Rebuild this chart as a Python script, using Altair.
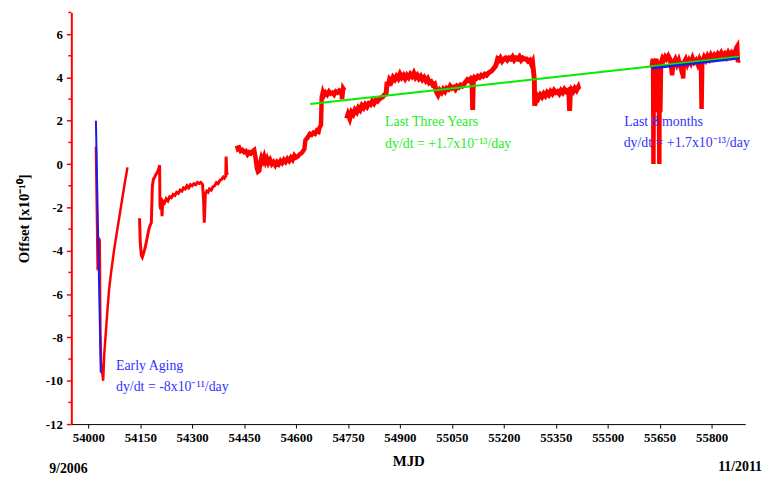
import altair as alt
import pandas as pd

# ---------------- data ----------------
# red measured offset, in separate recording segments (MJD, offset x1e-10)
seg_a_mjd = [54022, 54025, 54027, 54030, 54033, 54035, 54037, 54040, 54043, 54046, 54050, 54055, 54060,
             54065, 54070, 54075, 54080, 54085, 54090, 54095, 54100, 54105, 54110, 54113]
seg_a_val = [0.8, -2.5, -4.9, -3.4, -3.5, -7.8, -9.2, -9.6, -10.0, -8.8, -7.9, -6.8, -5.8,
             -5.1, -4.5, -3.9, -3.4, -2.9, -2.4, -1.9, -1.4, -0.9, -0.45, -0.15]

seg_b_mjd = [54148, 54150, 54153, 54156, 54160, 54165, 54170, 54175, 54179, 54182, 54185, 54188, 54192,
             54196, 54200, 54204, 54206, 54207, 54209, 54211, 54213, 54215, 54220, 54225, 54230, 54235,
             54240, 54245, 54250, 54255, 54260, 54265, 54270, 54275, 54280, 54285, 54290, 54295, 54300,
             54305, 54310, 54315, 54320, 54325, 54330, 54333, 54335, 54338, 54342, 54346, 54350, 54355,
             54360, 54365, 54370, 54375, 54380, 54385, 54390, 54393, 54397, 54398, 54400, 54403]
seg_b_val = [-2.5, -3.6, -4.2, -4.3, -4.1, -3.8, -3.4, -3.0, -2.8, -2.7, -1.0, -0.7, -0.6,
             -0.45, -0.35, -0.2, -0.05, -1.9, -2.1, -1.8, -2.4, -1.7, -1.8, -1.6, -1.7, -1.5,
             -1.55, -1.4, -1.45, -1.3, -1.35, -1.2, -1.25, -1.1, -1.15, -1.0, -1.1, -0.95, -1.0,
             -0.9, -0.95, -0.85, -0.9, -0.85, -0.95, -1.7, -2.7, -1.4, -1.25, -1.3, -1.15, -1.2,
             -1.05, -1.0, -0.85, -0.9, -0.75, -0.7, -0.6, -0.65, -0.55, 0.35, -0.45, -0.4]

seg_c_mjd = [54429, 54432, 54436, 54440, 54445, 54450, 54455, 54460, 54465, 54470, 54475, 54479, 54483,
             54487, 54490, 54494, 54497, 54500, 54504, 54508, 54512, 54516, 54520, 54525, 54530, 54535,
             54540, 54545, 54550, 54555, 54560, 54565, 54570, 54575, 54580, 54585, 54590, 54595, 54600,
             54605, 54610, 54615, 54620, 54624, 54627, 54632, 54636, 54640, 54645, 54650, 54655, 54660,
             54665, 54668, 54672, 54674, 54677, 54680, 54685, 54690, 54695, 54700, 54705, 54710, 54715,
             54720, 54725, 54730, 54733, 54736, 54740]
seg_c_val = [0.85, 0.7, 0.75, 0.6, 0.65, 0.55, 0.6, 0.45, 0.55, 0.5, 0.6, 0.65, 0.3,
             -0.2, -0.35, -0.3, 0.1, 0.3, 0.15, 0.35, 0.1, 0.25, 0.05, 0.2, 0.0, 0.1,
             -0.05, 0.1, 0.0, 0.15, 0.05, 0.2, 0.1, 0.25, 0.15, 0.3, 0.2, 0.4, 0.3,
             0.35, 0.45, 0.5, 0.6, 0.7, 1.1, 1.2, 1.3, 1.4, 1.35, 1.45, 1.4, 1.55,
             1.5, 1.7, 1.8, 3.1, 3.3, 3.15, 3.3, 3.2, 3.35, 3.25, 3.3, 3.2, 3.35,
             3.3, 3.4, 3.35, 3.0, 3.5, 3.4]

seg_d_mjd = [54746, 54750, 54755, 54760, 54765, 54770, 54775, 54780, 54785, 54790, 54795, 54800, 54805,
             54810, 54815, 54820, 54825, 54830, 54835, 54840, 54845, 54850, 54855, 54860, 54863, 54866,
             54870, 54875, 54880, 54885, 54890, 54895, 54900, 54905, 54910, 54915, 54920, 54925, 54930,
             54935, 54940, 54945, 54950, 54955, 54960, 54965, 54970, 54975, 54980, 54985, 54990, 54995,
             55000, 55005, 55010, 55015, 55020, 55025, 55030, 55035, 55040, 55045, 55050, 55055, 55060,
             55065, 55070, 55075, 55080, 55085, 55090, 55095, 55100, 55105, 55108, 55110, 55112, 55115,
             55120, 55125, 55130, 55135, 55140, 55145, 55150, 55155, 55160, 55165, 55170, 55175, 55178,
             55182, 55186, 55190, 55195, 55200, 55205, 55210, 55215, 55220, 55225, 55230, 55235, 55240,
             55245, 55250, 55255, 55260, 55265, 55270, 55275, 55280, 55283, 55285, 55288, 55289, 55292,
             55296, 55300, 55305, 55310, 55315, 55320, 55325, 55330, 55335, 55340, 55345, 55350, 55355,
             55360, 55365, 55370, 55375, 55380, 55385, 55388, 55390, 55392, 55395, 55400, 55405, 55410,
             55415, 55417]
seg_d_val = [2.1, 2.3, 2.1, 2.4, 2.3, 2.5, 2.4, 2.6, 2.5, 2.7, 2.6, 2.75, 2.65,
             2.8, 2.75, 2.9, 2.8, 2.95, 2.9, 3.0, 3.05, 3.1, 3.2, 3.25, 3.8, 3.6,
             3.9, 3.8, 4.0, 3.9, 4.05, 3.95, 4.15, 4.0, 4.1, 3.95, 4.1, 4.0, 4.15,
             4.05, 4.2, 4.0, 4.1, 3.95, 4.05, 3.9, 4.0, 3.85, 3.95, 3.75, 3.8, 3.65,
             3.7, 3.35, 3.2, 3.4, 3.3, 3.45, 3.35, 3.5, 3.45, 3.6, 3.5, 3.55, 3.45,
             3.6, 3.55, 3.65, 3.6, 3.7, 3.8, 3.9, 3.85, 3.95, 3.9, 2.5, 3.9, 4.0,
             3.95, 4.05, 4.0, 4.1, 4.05, 4.15, 4.1, 4.2, 4.25, 4.3, 4.4, 4.5, 4.6,
             4.85, 4.8, 4.9, 4.75, 4.85, 4.9, 4.8, 4.9, 4.85, 4.95, 4.8, 4.9, 4.85,
             4.95, 4.8, 4.9, 4.85, 4.85, 4.75, 4.8, 4.6, 4.7, 4.4, 3.9, 2.7, 2.9,
             3.15, 3.05, 3.2, 3.1, 3.25, 3.15, 3.3, 3.2, 3.35, 3.25, 3.4, 3.3, 3.35,
             3.25, 3.4, 3.3, 3.45, 3.35, 3.4, 3.2, 2.45, 3.3, 3.45, 3.35, 3.5, 3.4,
             3.55, 3.45]

seg_e_mjd = [55627, 55629, 55631, 55632, 55633, 55635, 55637, 55640, 55643, 55645, 55647, 55649, 55650,
             55652, 55654, 55658, 55662, 55666, 55670, 55675, 55680, 55686, 55690, 55695, 55700, 55705,
             55710, 55714, 55718, 55720, 55725, 55730, 55735, 55740, 55745, 55750, 55755, 55760, 55765,
             55769, 55771, 55773, 55778, 55783, 55788, 55793, 55798, 55803, 55808, 55813, 55818, 55823,
             55828, 55833, 55838, 55843, 55848, 55853, 55858, 55863, 55868, 55872, 55874, 55876, 55878]
seg_e_val = [4.45, 4.75, 4.85, 0.0, 4.6, 2.4, 4.7, 4.85, 4.6, 2.4, 4.5, 0.0, 4.6,
             2.4, 4.7, 4.9, 4.8, 4.95, 4.85, 5.0, 4.85, 4.1, 4.7, 4.85, 4.6, 4.8,
             4.5, 4.75, 3.95, 4.7, 4.85, 4.6, 4.8, 4.65, 4.9, 4.7, 4.8, 4.6, 4.85,
             4.7, 2.55, 4.75, 4.95, 4.8, 5.0, 4.85, 5.05, 4.9, 5.05, 4.95, 5.1, 5.0,
             5.15, 5.0, 5.1, 4.95, 5.15, 5.0, 5.15, 5.05, 5.2, 5.4, 5.45, 4.7, 4.8]

# fitted drift lines (start / end points)
fit_three_years_mjd = [54641, 55879]
fit_three_years_val = [2.77, 4.95]
fit_eight_months_mjd = [55627, 55879]
fit_eight_months_val = [4.42, 4.88]
fit_early_mjd = [54022, 54036]
fit_early_val = [2.0, -9.63]

# annotations (anchored in data coordinates)
ann_text = ["Early Aging", "dy/dt = -8x10\u207b\u00b9\u00b9/day",
            "Last Three Years", "dy/dt = +1.7x10\u207b\u00b9\u00b3/day",
            "Last 8 months", "dy/dt = +1.7x10\u207b\u00b9\u00b3/day"]
ann_mjd = [54080, 54080, 54857, 54857, 55548, 55546]
ann_val = [-9.32, -10.27, 1.92, 0.91, 1.96, 0.96]
ann_color = ["#3333ff", "#3333ff", "#22ee22", "#22ee22", "#3333ff", "#3333ff"]

y_major = [-12, -10, -8, -6, -4, -2, 0, 2, 4, 6]
y_minor = [-11, -9, -7, -5, -3, -1, 1, 3, 5, 7]
x_ticks = [54000, 54150, 54300, 54450, 54600, 54750, 54900, 55050, 55200, 55350, 55500, 55650, 55800]
date_labels = ["9/2006", "11/2011"]

# ---------------- build tables ----------------
seg_width = {"a": 2.5, "b": 3, "c": 4.5, "d": 5, "e": 4.5}
rows = []
for name, ms, vs in [("a", seg_a_mjd, seg_a_val), ("b", seg_b_mjd, seg_b_val),
                     ("c", seg_c_mjd, seg_c_val), ("d", seg_d_mjd, seg_d_val),
                     ("e", seg_e_mjd, seg_e_val)]:
    for m, v in zip(ms, vs):
        rows.append({"mjd": m, "val": v, "seg": name, "w": seg_width[name]})
red_df = pd.DataFrame(rows)

green_df = pd.DataFrame({"mjd": fit_three_years_mjd, "val": fit_three_years_val})
blue8_df = pd.DataFrame({"mjd": fit_eight_months_mjd, "val": fit_eight_months_val})
blue0_df = pd.DataFrame({"mjd": fit_early_mjd, "val": fit_early_val})
ann_df = pd.DataFrame({"mjd": ann_mjd, "val": ann_val, "text": ann_text, "color": ann_color})
minor_df = pd.DataFrame({"val": y_minor})

FONT = "Liberation Serif"
W, H = 681, 416

xscale = alt.Scale(domain=[53951, 55897], nice=False, zero=False)
yscale = alt.Scale(domain=[-12, 7], nice=False, zero=False)

xaxis = alt.Axis(values=x_ticks, title="MJD", tickSize=4, labelPadding=4,
                 labelExpr="'' + datum.value",
                 domainColor="black", tickColor="black", labelFont=FONT, labelFontSize=13,
                 labelFontWeight="bold", labelColor="black", titleFont=FONT, titleFontSize=15,
                 titleFontWeight="bold", titlePadding=9, titleColor="black", grid=False,
                 labelFlush=False)
yaxis = alt.Axis(values=y_major, title="Offset [x10\u207b\u00b9\u2070]", tickSize=5,
                 labelExpr="'' + datum.value",
                 labelPadding=4, domainColor="#ff0000", domainWidth=2, tickColor="#ff0000",
                 tickWidth=1.5, labelFont=FONT, labelFontSize=13, labelFontWeight="bold",
                 labelColor="black", titleFont=FONT, titleFontSize=15, titleFontWeight="bold",
                 titlePadding=14, titleColor="black", grid=False, labelFlush=False)

x = alt.X("mjd:Q", scale=xscale, axis=xaxis)
y = alt.Y("val:Q", scale=yscale, axis=yaxis)

red = alt.Chart(red_df).mark_line(color="#ff0000", strokeJoin="miter").encode(
    x=x, y=y, detail="seg:N", order="mjd:Q",
    strokeWidth=alt.StrokeWidth("w:Q", scale=None, legend=None))
green = alt.Chart(green_df).mark_line(color="#00ee00", strokeWidth=2).encode(
    x=alt.X("mjd:Q", scale=xscale), y=alt.Y("val:Q", scale=yscale))
blue8 = alt.Chart(blue8_df).mark_line(color="#1a1aee", strokeWidth=2.5).encode(
    x=alt.X("mjd:Q", scale=xscale), y=alt.Y("val:Q", scale=yscale))
blue0 = alt.Chart(blue0_df).mark_line(color="#1a1aee", strokeWidth=2).encode(
    x=alt.X("mjd:Q", scale=xscale), y=alt.Y("val:Q", scale=yscale))

ann = alt.Chart(ann_df).mark_text(align="left", baseline="middle", font=FONT, fontSize=14).encode(
    x=alt.X("mjd:Q", scale=xscale), y=alt.Y("val:Q", scale=yscale),
    text="text:N", color=alt.Color("color:N", scale=None))

minor = alt.Chart(minor_df).mark_rule(color="#ff0000", strokeWidth=1.5).encode(
    x=alt.value(-3), x2=alt.value(0), y=alt.Y("val:Q", scale=yscale))

d0 = alt.Chart(pd.DataFrame({"t": [date_labels[0]]})).mark_text(
    align="center", baseline="alphabetic", font=FONT, fontSize=14, fontWeight="bold",
    color="black").encode(x=alt.value(-3), y=alt.value(465), text="t:N")
d1 = alt.Chart(pd.DataFrame({"t": [date_labels[1]]})).mark_text(
    align="right", baseline="alphabetic", font=FONT, fontSize=14, fontWeight="bold",
    color="black").encode(x=alt.value(698), y=alt.value(463), text="t:N")

chart = alt.layer(red, green, blue8, blue0, ann, minor, d0, d1).properties(
    width=W, height=H,
    autosize=alt.AutoSizeParams(type="none"),
    padding={"left": 64, "top": 2, "right": 19, "bottom": 52},
    background="white",
).configure_view(stroke=None)

chart.save("out.html", embed_options={"renderer": "svg", "actions": False})
